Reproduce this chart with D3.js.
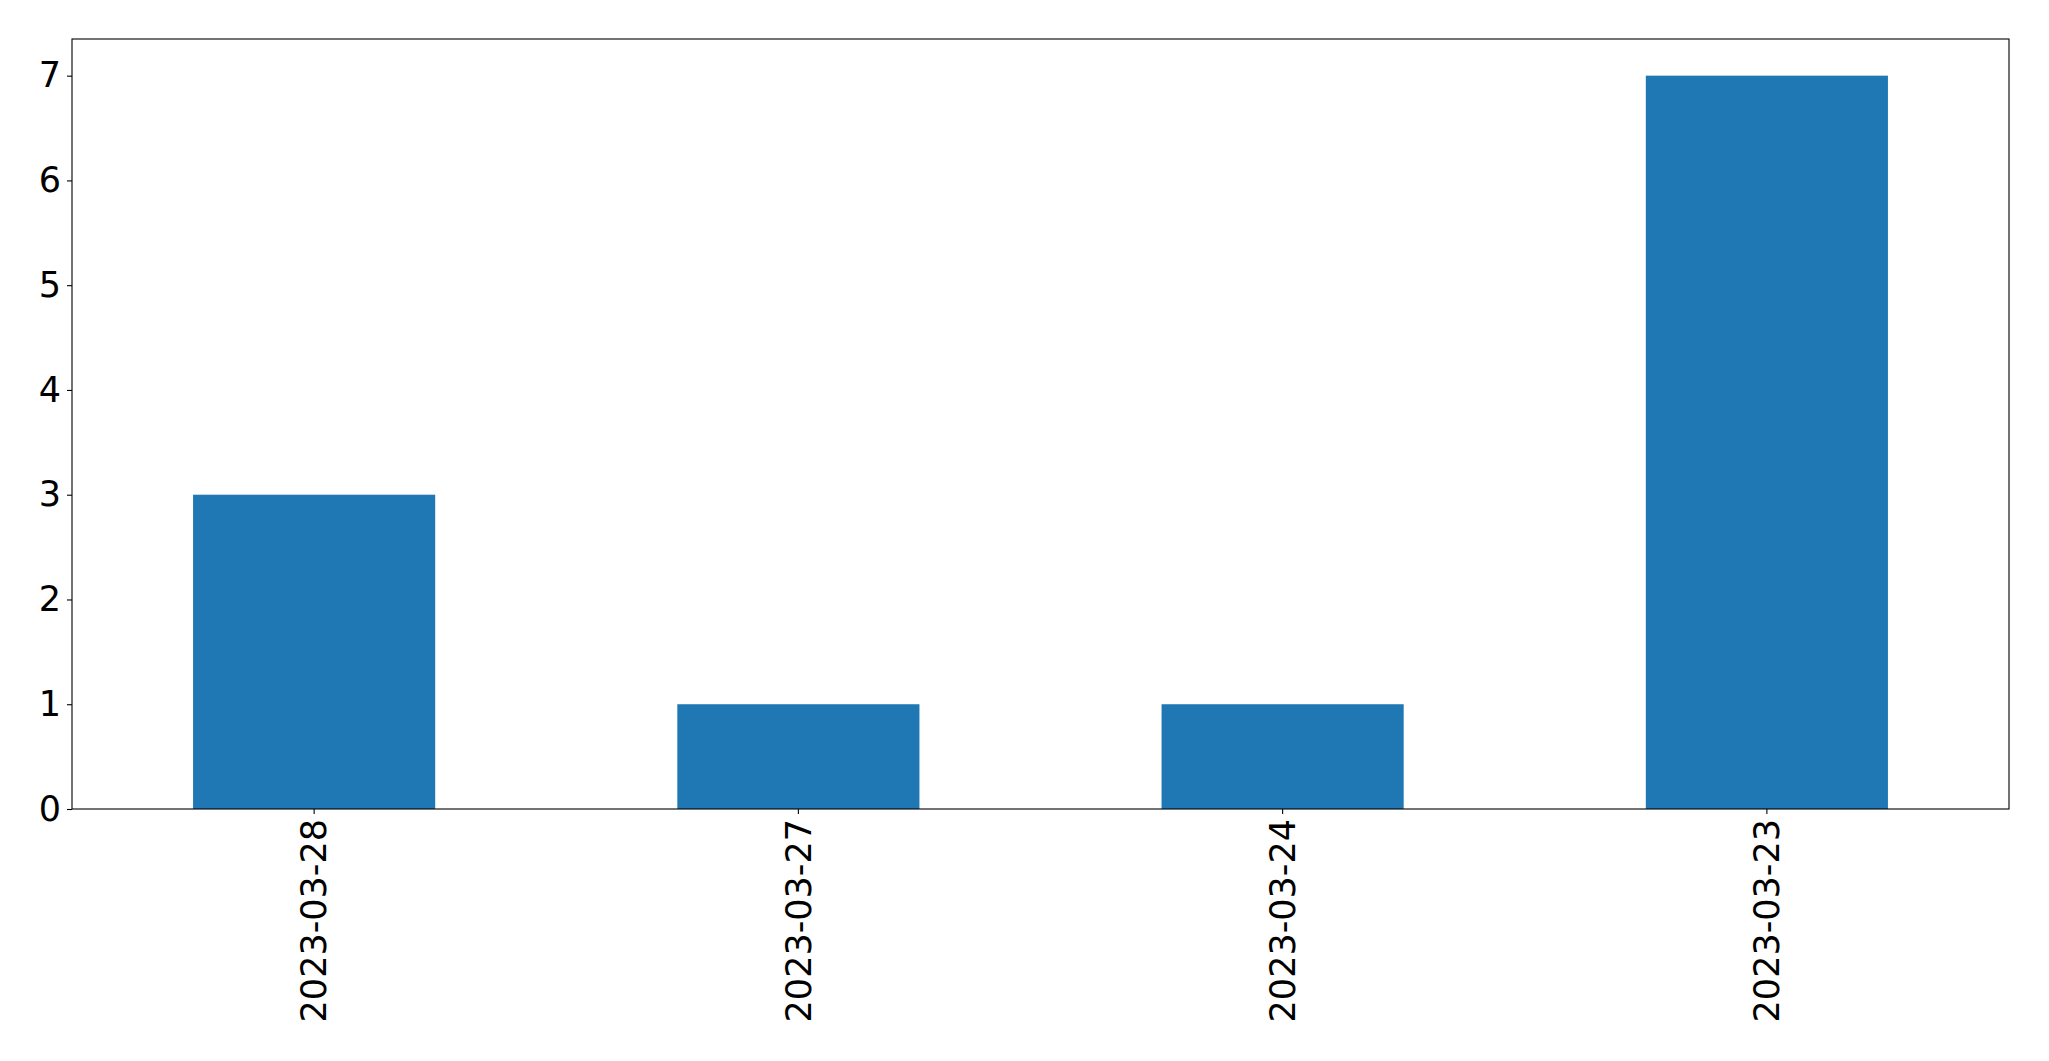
<!DOCTYPE html>
<html><head><meta charset="utf-8">
<script src="https://cdn.jsdelivr.net/npm/d3@7"></script>
<style>body{margin:0;background:#fff}svg{display:block}</style>
</head><body>
<script>
const categories = ["2023-03-28","2023-03-27","2023-03-24","2023-03-23"];
const values = [3,1,1,7];
const yTicks = [0,1,2,3,4,5,6,7];

const W=2049,H=1061;
const m={left:72,top:39,right:2049-2009,bottom:1061-809};
const svg=d3.select("body").append("svg").attr("width",W).attr("height",H);
const iw=W-m.left-m.right, ih=H-m.top-m.bottom;
const g=svg.append("g").attr("transform",`translate(${m.left},${m.top})`);
const x=d3.scaleBand().domain(categories).range([0,iw]).paddingInner(0.5).paddingOuter(0.25);
const y=d3.scaleLinear().domain([0,7*1.05]).range([ih,0]);

g.selectAll("rect.bar").data(values).enter().append("rect")
 .attr("x",(d,i)=>x(categories[i])).attr("width",x.bandwidth())
 .attr("y",d=>y(d)).attr("height",d=>y(0)-y(d)).attr("fill","#1f77b4");

const font="DejaVu Sans";
const ya=g.append("g").call(d3.axisLeft(y).tickValues(yTicks).tickFormat(d3.format("d")).tickSize(5).tickPadding(6));
const xa=g.append("g").attr("transform",`translate(0,${ih})`).call(d3.axisBottom(x).tickSize(5).tickPadding(5));
[ya,xa].forEach(a=>{a.select(".domain").remove();a.selectAll("line").attr("stroke","#000").attr("stroke-width",1.1);
 a.selectAll("text").attr("font-family",font).attr("font-size",35).attr("fill","#000");});
xa.selectAll("text").attr("transform","rotate(-90)").attr("text-anchor","end").attr("dy","0.35em").attr("x",-10).attr("y",0);
g.append("rect").attr("width",iw).attr("height",ih).attr("fill","none").attr("stroke","#000").attr("stroke-width",1.1);
</script>
</body></html>
